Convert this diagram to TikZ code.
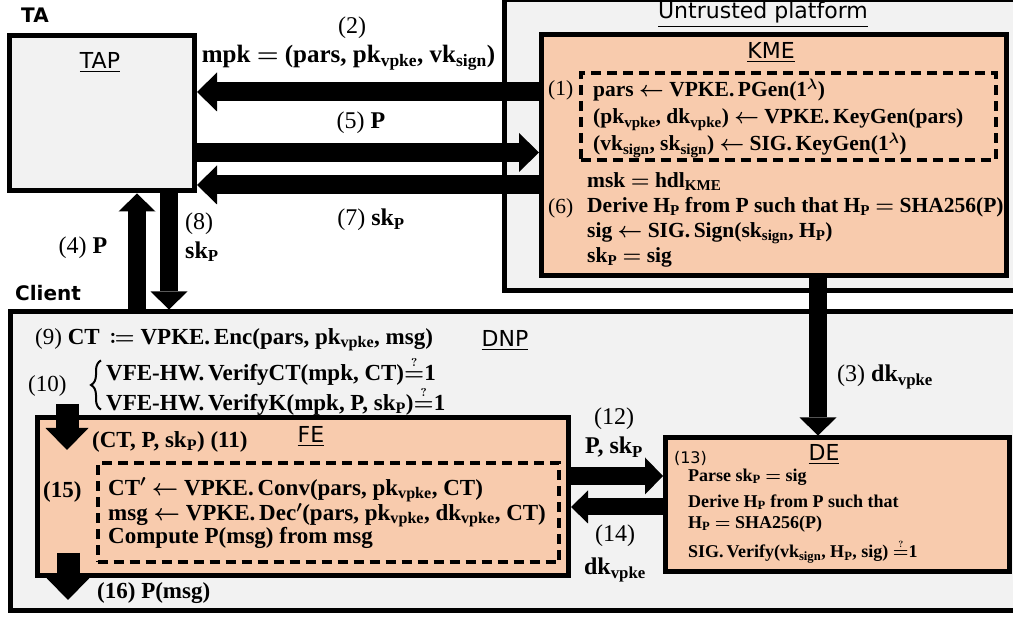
\RequirePackage{fix-cm}
\documentclass[tikz,border=0pt]{standalone}
\usepackage{amsmath,amssymb,mathtools}
\usepackage{fontspec}
\setmainfont{Liberation Serif}
\newfontfamily\labelfont{DejaVu Sans}
\usepackage{xcolor}
\usepackage{tikz}
\usetikzlibrary{arrows.meta,calc,positioning,decorations.pathreplacing}
\definecolor{platgray}{HTML}{F2F2F2}
\definecolor{enclpeach}{HTML}{F8CBAD}

% bold upright subscript, checked equality, step number
\newcommand{\sbx}[1]{$_{\text{#1}}$}
\newcommand{\qeq}{$\stackrel{\scriptscriptstyle ?}{=}$}
\newcommand{\stp}[1]{{\mdseries(#1)}}

\tikzset{
  platbox/.style={draw,line width=5pt,fill=platgray,inner sep=0pt},
  enclbox/.style={platbox,fill=enclpeach},
  dashbox/.style={draw,line width=4pt,dash pattern=on 10pt off 6pt,inner sep=0pt},
  boxtitle/.style={font=\labelfont\fontsize{22}{26}\selectfont,inner sep=0pt},
  partytitle/.style={font=\labelfont\bfseries\fontsize{20}{24}\selectfont,inner sep=0pt},
  eqtext/.style={font=\bfseries\boldmath\fontsize{21.5}{27}\selectfont,inner sep=0pt,align=left},
  eqbig/.style={font=\bfseries\boldmath\fontsize{23}{30}\selectfont,inner sep=0pt,align=left},
  eqlabel/.style={font=\bfseries\boldmath\fontsize{24}{29}\selectfont,inner sep=0pt,align=center},
  eqsmall/.style={font=\bfseries\boldmath\fontsize{18}{21}\selectfont,inner sep=0pt,align=left},
  fat/.style={line width=19pt,-{Triangle[width=39pt,length=20pt,line width=0pt]}},
  fatmid/.style={line width=18pt,-{Triangle[width=37pt,length=18pt,line width=0pt]}},
  fatthin/.style={line width=17pt,-{Triangle[width=33pt,length=17pt,line width=0pt]}},
  fatwide/.style={line width=23pt,-{Triangle[width=43pt,length=22pt,line width=0pt]}},
  checkbrace/.style={line width=2pt,decorate,decoration={brace,amplitude=10pt}},
}

\begin{document}
\begin{tikzpicture}[x=1pt,y=1pt]
\useasboundingbox (0,0) rectangle (1013,617);
\clip (0,0) rectangle (1013,617);

% outer boxes
\node[platbox,minimum width=185pt,minimum height=155pt] (tap) at (102,503.5) {};
\node[platbox,minimum width=514pt,minimum height=290.5pt] (untr) at (761,471.75) {};
\node[enclbox,minimum width=465pt,minimum height=241pt] (kme) at (774,462) {};
\node[platbox,minimum width=1008pt,minimum height=298.5pt] (dnp) at (514,155.75) {};
\node[enclbox,minimum width=531pt,minimum height=157.5pt] (fe) at (303,120.25) {};
\node[enclbox,minimum width=344pt,minimum height=134pt] (de) at (837.5,112) {};
\node[dashbox,minimum width=415pt,minimum height=86.5pt] (kgenbox) at (788,500.25) {};
\node[dashbox,minimum width=461.5pt,minimum height=99pt] (decbox) at (328.25,104) {};

% titles
\node[partytitle] (ta) at (35,602) {TA};
\node[partytitle] (client) at (48,324) {Client};
\node[boxtitle] (taptitle) at (100,554) {\underline{TAP}};
\node[boxtitle] (untrtitle) at (763,602) {\underline{Untrusted platform}};
\node[boxtitle] (kmetitle) at (771,564) {\underline{KME}};
\node[boxtitle] (dnptitle) at (505,276) {\underline{DNP}};
\node[boxtitle] (fetitle) at (311,180) {\underline{FE}};
\node[boxtitle] (detitle) at (824,162) {\underline{DE}};

% KME
\node[eqtext,anchor=west] (s1) at (548,527) {\stp{1}};
\node[eqtext,anchor=west] (kgen) at (593,499) {pars $\leftarrow$ VPKE.\,PGen(1$^{\lambda}$)\\
(pk\sbx{vpke}, dk\sbx{vpke}) $\leftarrow$ VPKE.\,KeyGen(pars)\\
(vk\sbx{sign}, sk\sbx{sign}) $\leftarrow$ SIG.\,KeyGen(1$^{\lambda}$)};
\node[eqtext,anchor=west] (s6) at (548,409) {\stp{6}};
\node[eqtext,anchor=west,font=\bfseries\boldmath\fontsize{21.5}{25}\selectfont] (sign) at (587,397.5)
{msk $=$ hdl\sbx{KME}\\
Derive H\sbx{P} from P such that H\sbx{P} $=$ SHA256(P)\\
sig $\leftarrow$ SIG.\,Sign(sk\sbx{sign}, H\sbx{P})\\
sk\sbx{P} $=$ sig};

% DNP
\node[eqbig,anchor=west] (enc) at (35,277) {\stp{9} CT \,$\coloneqq$ VPKE.\,Enc(pars, pk\sbx{vpke}, msg)};
\node[eqbig,anchor=west] (s10) at (28,231) {\stp{10}};
\node[eqbig,anchor=west] (vfe) at (106,231) {VFE-HW.\,VerifyCT(mpk, CT)\qeq1\\
VFE-HW.\,VerifyK(mpk, P, sk\sbx{P})\qeq1};
\draw[checkbrace] ([xshift=-5pt,yshift=6pt]vfe.south west) -- ([xshift=-5pt,yshift=-4pt]vfe.north west);
\node[eqbig,anchor=west] (fein) at (92,175) {(CT, P, sk\sbx{P}) (11)};
\node[eqbig,anchor=west] (s15) at (43,125) {(15)};
\node[eqbig,anchor=west,font=\bfseries\boldmath\fontsize{23}{23.5}\selectfont] (dec) at (108,103.5)
{CT$'$ $\leftarrow$ VPKE.\,Conv(pars, pk\sbx{vpke}, CT)\\
msg $\leftarrow$ VPKE.\,Dec$'$(pars, pk\sbx{vpke}, dk\sbx{vpke}, CT)\\
Compute P(msg) from msg};
\node[eqbig,anchor=west] (feout) at (97,24) {(16) P(msg)};

% DE
\node[boxtitle,font=\labelfont\fontsize{16}{20}\selectfont] (s13) at (690.5,159) {(13)};
\node[eqsmall,anchor=west] (check) at (688,101)
{Parse sk\sbx{P} $=$ sig\\[5pt]
Derive H\sbx{P} from P such that\\
H\sbx{P} $=$ SHA256(P)\\[6pt]
SIG.\,Verify(vk\sbx{sign}, H\sbx{P}, sig) \qeq1};

% arrow labels
\node[eqlabel] (l2) at (352,589) {\stp{2}};
\node[eqlabel,font=\bfseries\boldmath\fontsize{25}{29}\selectfont] (mpk) at (348.5,559) {mpk $=$ (pars, pk\sbx{vpke}, vk\sbx{sign})};
\node[eqlabel] (l5) at (361,494) {\stp{5} P};
\node[eqlabel] (l7) at (371,397) {\stp{7} sk\sbx{P}};
\node[eqlabel,anchor=west,align=left] (l8) at (185,380) {\stp{8}\\sk\sbx{P}};
\node[eqlabel] (l4) at (83,369) {\stp{4} P};
\node[eqlabel,anchor=west] (l3) at (837,240) {\stp{3} dk\sbx{vpke}};
\node[eqlabel] (l12) at (614,184.5) {\stp{12}\\P, sk\sbx{P}};
\node[eqlabel,font=\bfseries\boldmath\fontsize{24}{33}\selectfont] (l14) at (615,63.5) {\stp{14}\\dk\sbx{vpke}};

% arrow rows and columns
\coordinate (r2) at (0,525);
\coordinate (r5) at (0,464.5);
\coordinate (r7) at (0,432);
\coordinate (r12) at (0,141);
\coordinate (r14) at (0,110);
\coordinate (c4) at (137,0);
\coordinate (c8) at (169,0);
\coordinate (c3) at (818,0);
\coordinate (in11) at (67,213);
\coordinate (out11) at (67,167);
\coordinate (in16) at (68,64);
\coordinate (out16) at (68,17);

\draw[fat] (kme.west |- r2) -- (tap.east |- r2);
\draw[fat] (tap.east |- r5) -- (kme.west |- r5);
\draw[fat] (kme.west |- r7) -- (tap.east |- r7);
\draw[fatmid] (dnp.north -| c4) -- (tap.south -| c4);
\draw[fatmid] (tap.south -| c8) -- (dnp.north -| c8);
\draw[fatmid] (kme.south -| c3) -- (de.north -| c3);
\draw[fatwide] (in11) -- (out11);
\draw[fatwide] (in16) -- (out16);
\draw[fatmid] (fe.east |- r12) -- (de.west |- r12);
\draw[fatthin] (de.west |- r14) -- (fe.east |- r14);
\end{tikzpicture}
\end{document}
